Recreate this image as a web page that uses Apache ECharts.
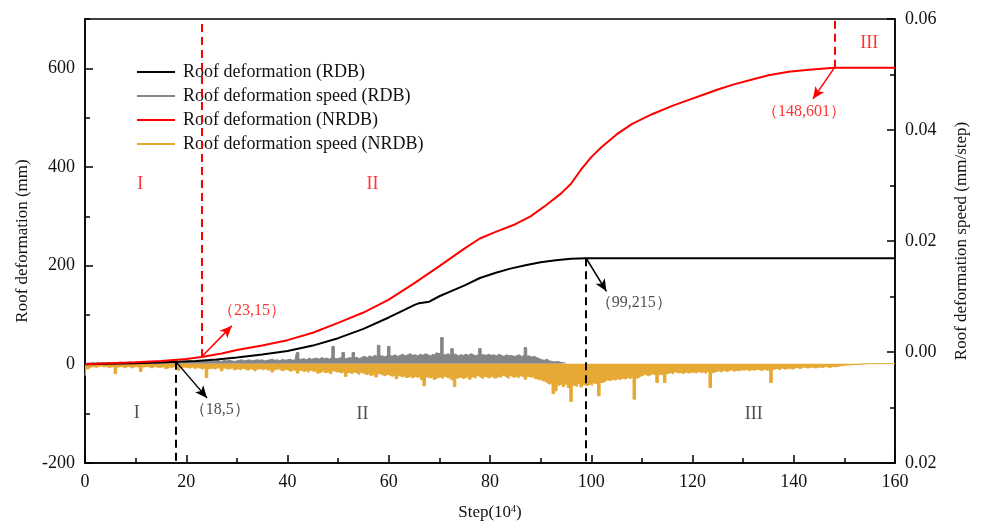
<!DOCTYPE html>
<html>
<head>
<meta charset="utf-8">
<script src="https://cdn.jsdelivr.net/npm/echarts@6/dist/echarts.min.js"></script>
<style>html,body{margin:0;padding:0;background:#fff}#c{width:986px;height:527px}</style>
</head>
<body>
<div id="c"></div>
<script>
// ---- Data (step in 10^4, deformation in mm) ----
const rdbStep = [0,5,10,15,18,22,26,30,35,40,45,50,55,60,63,65,66,68,70,72,75,78,81,84,87,90,93,96,99,160];
const rdbDef  = [0,1,2,3.5,5,7,10,14,20,27,38,53,72,95,110,120,124,127,138,147,160,175,185,194,201,207,211,214,215,215];
const nrdbStep = [0,5,10,15,20,23,27,30,35,40,45,50,55,60,65,70,75,78,81,85,88,91,92,94,96,98,100,102,105,108,112,116,119,122,125,128,132,135,139,143,148,160];
const nrdbDef  = [0,2,4,7,11,15,22,29,38,49,64,84,105,131,164,199,235,255,268,284,300,322,330,346,366,395,420,440,466,487,507,524,535,546,557,567,578,586,593,597,601,601];

// speed series, sampled every 0.5 step (10^4), values in 1e-4 mm/step
const speedDX = 0.5;
const speedUnit = 1e-4;
const speedBase = -21;
const speedRDB = [
 -21,-20,-20,-19,-20,-19,-20,-19,-20,-19,
 -19,-20,-19,-19,-18,-19,-20,-19,-18,-19,
 -18,-19,-18,-17,-19,-18,-17,-18,-19,-17,
 -18,-17,-18,-17,-18,-17,-16,-18,-17,-18,
 -17,-16,-17,-18,-16,-17,-16,-17,-16,-17,
 -16,-17,-15,-16,-17,-15,-16,-15,-16,-17,
 -16,-15,-14,-16,-15,-14,-16,-15,-14,-15,
 -14,-16,-15,-14,-13,-15,-14,-16,-13,-15,
 -14,-13,-15,-14,-1,-13,-12,-14,-11,-13,
 -12,-11,-13,-10,-12,-11,-13,-10,10,-12,
 -11,-10,-1,-12,-10,-11,-1,-10,-12,-9,
 -8,-10,-7,-9,-6,-8,12,-7,-9,-6,
 10,-7,-5,-8,-6,-4,-7,-5,-3,-6,
 -5,-7,-4,-6,-3,-5,-7,-4,-6,-2,
 -4,26,-5,-3,-6,6,-4,-7,-5,-6,
 -4,-6,-3,-5,-7,-4,6,-5,-6,-4,
 -6,-5,-7,-4,-6,-8,-5,-7,-6,-8,
 -7,-5,-8,-6,8,-7,-9,-8,-10,-12,
 -14,-15,-13,-16,-17,-18,-17,-18,-19,-19,
 -21
];
const speedNRDB = [
 -43,-30,-27,-26,-28,-26,-25,-27,-26,-28,
 -27,-26,-39,-27,-26,-28,-27,-26,-29,-27,
 -26,-28,-35,-27,-26,-27,-29,-26,-27,-28,
 -27,-26,-30,-27,-28,-26,-27,-33,-28,-27,
 -28,-29,-27,-30,-28,-29,-31,-28,-46,-30,
 -29,-31,-28,-30,-34,-29,-31,-30,-28,-32,
 -30,-32,-29,-31,-33,-30,-32,-35,-31,-30,
 -32,-30,-33,-31,-36,-32,-30,-33,-34,-31,
 -33,-35,-32,-34,-38,-33,-35,-34,-37,-33,
 -35,-34,-38,-36,-33,-37,-35,-39,-34,-36,
 -36,-38,-35,-44,-37,-39,-36,-38,-41,-37,
 -39,-41,-38,-42,-40,-45,-39,-41,-43,-40,
 -42,-44,-41,-48,-43,-45,-42,-46,-44,-47,
 -44,-46,-43,-50,-61,-45,-47,-44,-49,-46,
 -45,-48,-44,-47,-46,-50,-62,-47,-45,-48,
 -46,-44,-49,-45,-47,-43,-46,-48,-44,-47,
 -45,-43,-47,-44,-46,-42,-45,-48,-43,-46,
 -44,-47,-43,-45,-49,-44,-46,-43,-48,-50,
 -48,-52,-55,-58,-56,-75,-70,-60,-57,-62,
 -58,-64,-89,-60,-62,-57,-63,-59,-61,-58,
 -60,-56,-58,-79,-55,-53,-50,-52,-49,-51,
 -48,-50,-47,-49,-46,-48,-45,-85,-47,-44,
 -42,-40,-43,-41,-39,-42,-55,-40,-41,-55,
 -39,-37,-40,-36,-38,-37,-39,-36,-38,-37,
 -36,-38,-35,-37,-36,-39,-35,-64,-37,-35,
 -34,-36,-33,-35,-34,-32,-35,-33,-34,-32,
 -33,-31,-34,-32,-33,-31,-32,-34,-31,-33,
 -32,-55,-31,-30,-32,-29,-31,-30,-29,-31,
 -29,-28,-30,-28,-27,-29,-28,-27,-29,-28,
 -27,-28,-26,-27,-28,-26,-27,-26,-25,-24,
 -21
];
const speedNRDBTail = [[160, -21]];

// axes
const xTicks = [0, 160, 20];
const leftLabels = [-200, 0, 200, 400, 600];
const rightTicks = [-0.02, 0.06, 0.02];

// annotations (data coordinates)
const guideNRDB = [[23, 15, 700], [148, 601, 700]];
const guideRDB = [[18, 5, -200], [99, 215, -200]];
const arrowsNRDB = [[[23, 15], [29, 78]], [[148, 601], [143.8, 538]]];
const arrowsRDB = [[[18, 5], [24.1, -68]], [[99, 215], [103, 148]]];
const pointLabels = [
  ['（23,15）', 33, 108, '#FF0000'],
  ['（18,5）', 26.6, -93, '#222'],
  ['（99,215）', 108.4, 125, '#222'],
  ['（148,601）', 142, 511, '#FF0000']
];
const stageLabels = [
  ['I', 10.9, 365, '#FF0000'], ['II', 56.8, 365, '#FF0000'], ['III', 154.9, 650, '#FF0000'],
  ['I', 10.2, -99, '#222'], ['II', 54.8, -101, '#222'], ['III', 132.1, -101, '#222']
];

const RED = '#FF0000', GOLD = '#E6A933', GRAY = '#858585';
const FONT = '"Liberation Serif", "Times New Roman", serif';

function pairs(xs, ys) { return xs.map((x, i) => [x, ys[i]]); }
function speedPairs(arr) { return arr.map((v, i) => [i * speedDX, v * speedUnit]); }

const chart = echarts.init(document.getElementById('c'), null, {renderer: 'canvas'});

function guideData(list, color) {
  return list.map(g => [
    {coord: [g[0], g[1]], symbol: 'none', lineStyle: {color: color, type: [8, 5], width: 2}},
    {coord: [g[0], g[2]], symbol: 'none'}
  ]);
}
function arrowData(list, color) {
  return list.map(a => [
    {coord: a[0], symbol: 'none', lineStyle: {color: color, type: 'solid', width: 1.5}},
    {coord: a[1], symbol: 'arrow', symbolSize: [8, 12]}
  ]);
}

const labelData = pointLabels.map(p => ({
  value: [p[1], p[2]],
  label: {show: true, formatter: p[0], color: p[3], fontSize: 16, fontFamily: FONT, position: 'inside'}
})).concat(stageLabels.map(p => ({
  value: [p[1], p[2]],
  label: {show: true, formatter: p[0], color: p[3], fontSize: 18, fontFamily: FONT, position: 'inside'}
})));

const option = {
  animation: false,
  backgroundColor: '#fff',
  grid: {left: 85, right: 91, top: 19, bottom: 64, show: true, borderColor: '#000', borderWidth: 1.5, backgroundColor: 'transparent'},
  legend: {
    data: ['Roof deformation (RDB)', 'Roof deformation speed (RDB)', 'Roof deformation (NRDB)', 'Roof deformation speed (NRDB)'],
    orient: 'vertical', left: 137, top: 62, padding: 0,
    icon: 'rect', itemWidth: 38, itemHeight: 2, itemGap: 4,
    textStyle: {fontFamily: FONT, fontSize: 18, color: '#111', lineHeight: 20, padding: [0, 0, 0, 3]}
  },
  xAxis: {
    type: 'value', min: xTicks[0], max: xTicks[1], interval: xTicks[2],
    name: 'Step(10{sup|4})', nameLocation: 'middle', nameGap: 41,
    nameTextStyle: {fontFamily: FONT, fontSize: 17, color: '#111', rich: {sup: {fontSize: 10, verticalAlign: 'top', fontFamily: FONT, padding: [0, 0, 6, 0]}}},
    axisLine: {onZero: false, lineStyle: {color: '#000', width: 1.5}},
    axisTick: {inside: true, length: 8, lineStyle: {color: '#000', width: 1.5}},
    minorTick: {show: true, splitNumber: 2, length: 5, lineStyle: {color: '#000', width: 1.5}},
    axisLabel: {fontFamily: FONT, fontSize: 18, color: '#111', margin: 10},
    splitLine: {show: false}
  },
  yAxis: [
    {
      type: 'value', min: -200, max: 700, interval: 100, position: 'left',
      name: 'Roof deformation (mm)', nameLocation: 'middle', nameGap: 54, nameRotate: 90,
      nameTextStyle: {fontFamily: FONT, fontSize: 17, color: '#111'},
      axisLine: {show: true, onZero: false, lineStyle: {color: '#000', width: 1.5}},
      axisTick: {inside: true, length: 5, lineStyle: {color: '#000', width: 1.5}},
      axisLabel: {fontFamily: FONT, fontSize: 18, color: '#111', margin: 10, customValues: leftLabels},
      splitLine: {show: false}
    },
    {
      type: 'value', min: rightTicks[0], max: rightTicks[1], interval: rightTicks[2], position: 'right',
      name: 'Roof deformation speed (mm/step)', nameLocation: 'middle', nameGap: 58, nameRotate: 90,
      nameTextStyle: {fontFamily: FONT, fontSize: 17, color: '#111'},
      axisLine: {show: true, onZero: false, lineStyle: {color: '#000', width: 1.5}},
      axisTick: {inside: true, length: 8, lineStyle: {color: '#000', width: 1.5}},
      minorTick: {show: true, splitNumber: 2, length: 5, lineStyle: {color: '#000', width: 1.5}},
      axisLabel: {fontFamily: FONT, fontSize: 18, color: '#111', margin: 10,
        formatter: v => Math.abs(v - rightTicks[0]) < 1e-9 ? '0.02' : v.toFixed(2)},
      splitLine: {show: false}
    },
    {
      type: 'value', min: -200, max: 700, position: 'left', offset: 0,
      axisLine: {show: false, onZero: false}, axisLabel: {show: false}, splitLine: {show: false},
      axisTick: {show: true, inside: true, length: 8, customValues: leftLabels, lineStyle: {color: '#000', width: 1.5}}
    }
  ],
  series: [
    {
      name: 'Roof deformation speed (RDB)', type: 'line', yAxisIndex: 1, z: 2,
      data: speedPairs(speedRDB), showSymbol: false, step: 'middle',
      lineStyle: {color: GRAY, width: 1}, itemStyle: {color: GRAY},
      areaStyle: {color: GRAY, opacity: 1, origin: speedBase * speedUnit}
    },
    {
      name: 'Roof deformation speed (NRDB)', type: 'line', yAxisIndex: 1, z: 3,
      data: speedPairs(speedNRDB).concat(speedNRDBTail.map(p => [p[0], p[1] * speedUnit])), showSymbol: false, step: 'middle',
      lineStyle: {color: GOLD, width: 1}, itemStyle: {color: GOLD},
      areaStyle: {color: GOLD, opacity: 1, origin: speedBase * speedUnit}
    },
    {
      name: 'Roof deformation (RDB)', type: 'line', yAxisIndex: 0, z: 5,
      data: pairs(rdbStep, rdbDef), showSymbol: false,
      lineStyle: {color: '#000', width: 2}, itemStyle: {color: '#000'},
      markLine: {silent: true, animation: false, symbol: ['none', 'none'], label: {show: false},
        data: guideData(guideRDB, '#000').concat(arrowData(arrowsRDB, '#000'))}
    },
    {
      name: 'Roof deformation (NRDB)', type: 'line', yAxisIndex: 0, z: 6,
      data: pairs(nrdbStep, nrdbDef), showSymbol: false,
      lineStyle: {color: RED, width: 2}, itemStyle: {color: RED},
      markLine: {silent: true, animation: false, symbol: ['none', 'none'], label: {show: false},
        data: guideData(guideNRDB, RED).concat(arrowData(arrowsNRDB, RED))}
    },
    {
      name: 'labels', type: 'scatter', yAxisIndex: 0, z: 10, silent: true,
      symbolSize: 1, itemStyle: {color: 'rgba(0,0,0,0)'},
      data: labelData
    }
  ]
};
chart.setOption(option);
</script>
</body>
</html>
